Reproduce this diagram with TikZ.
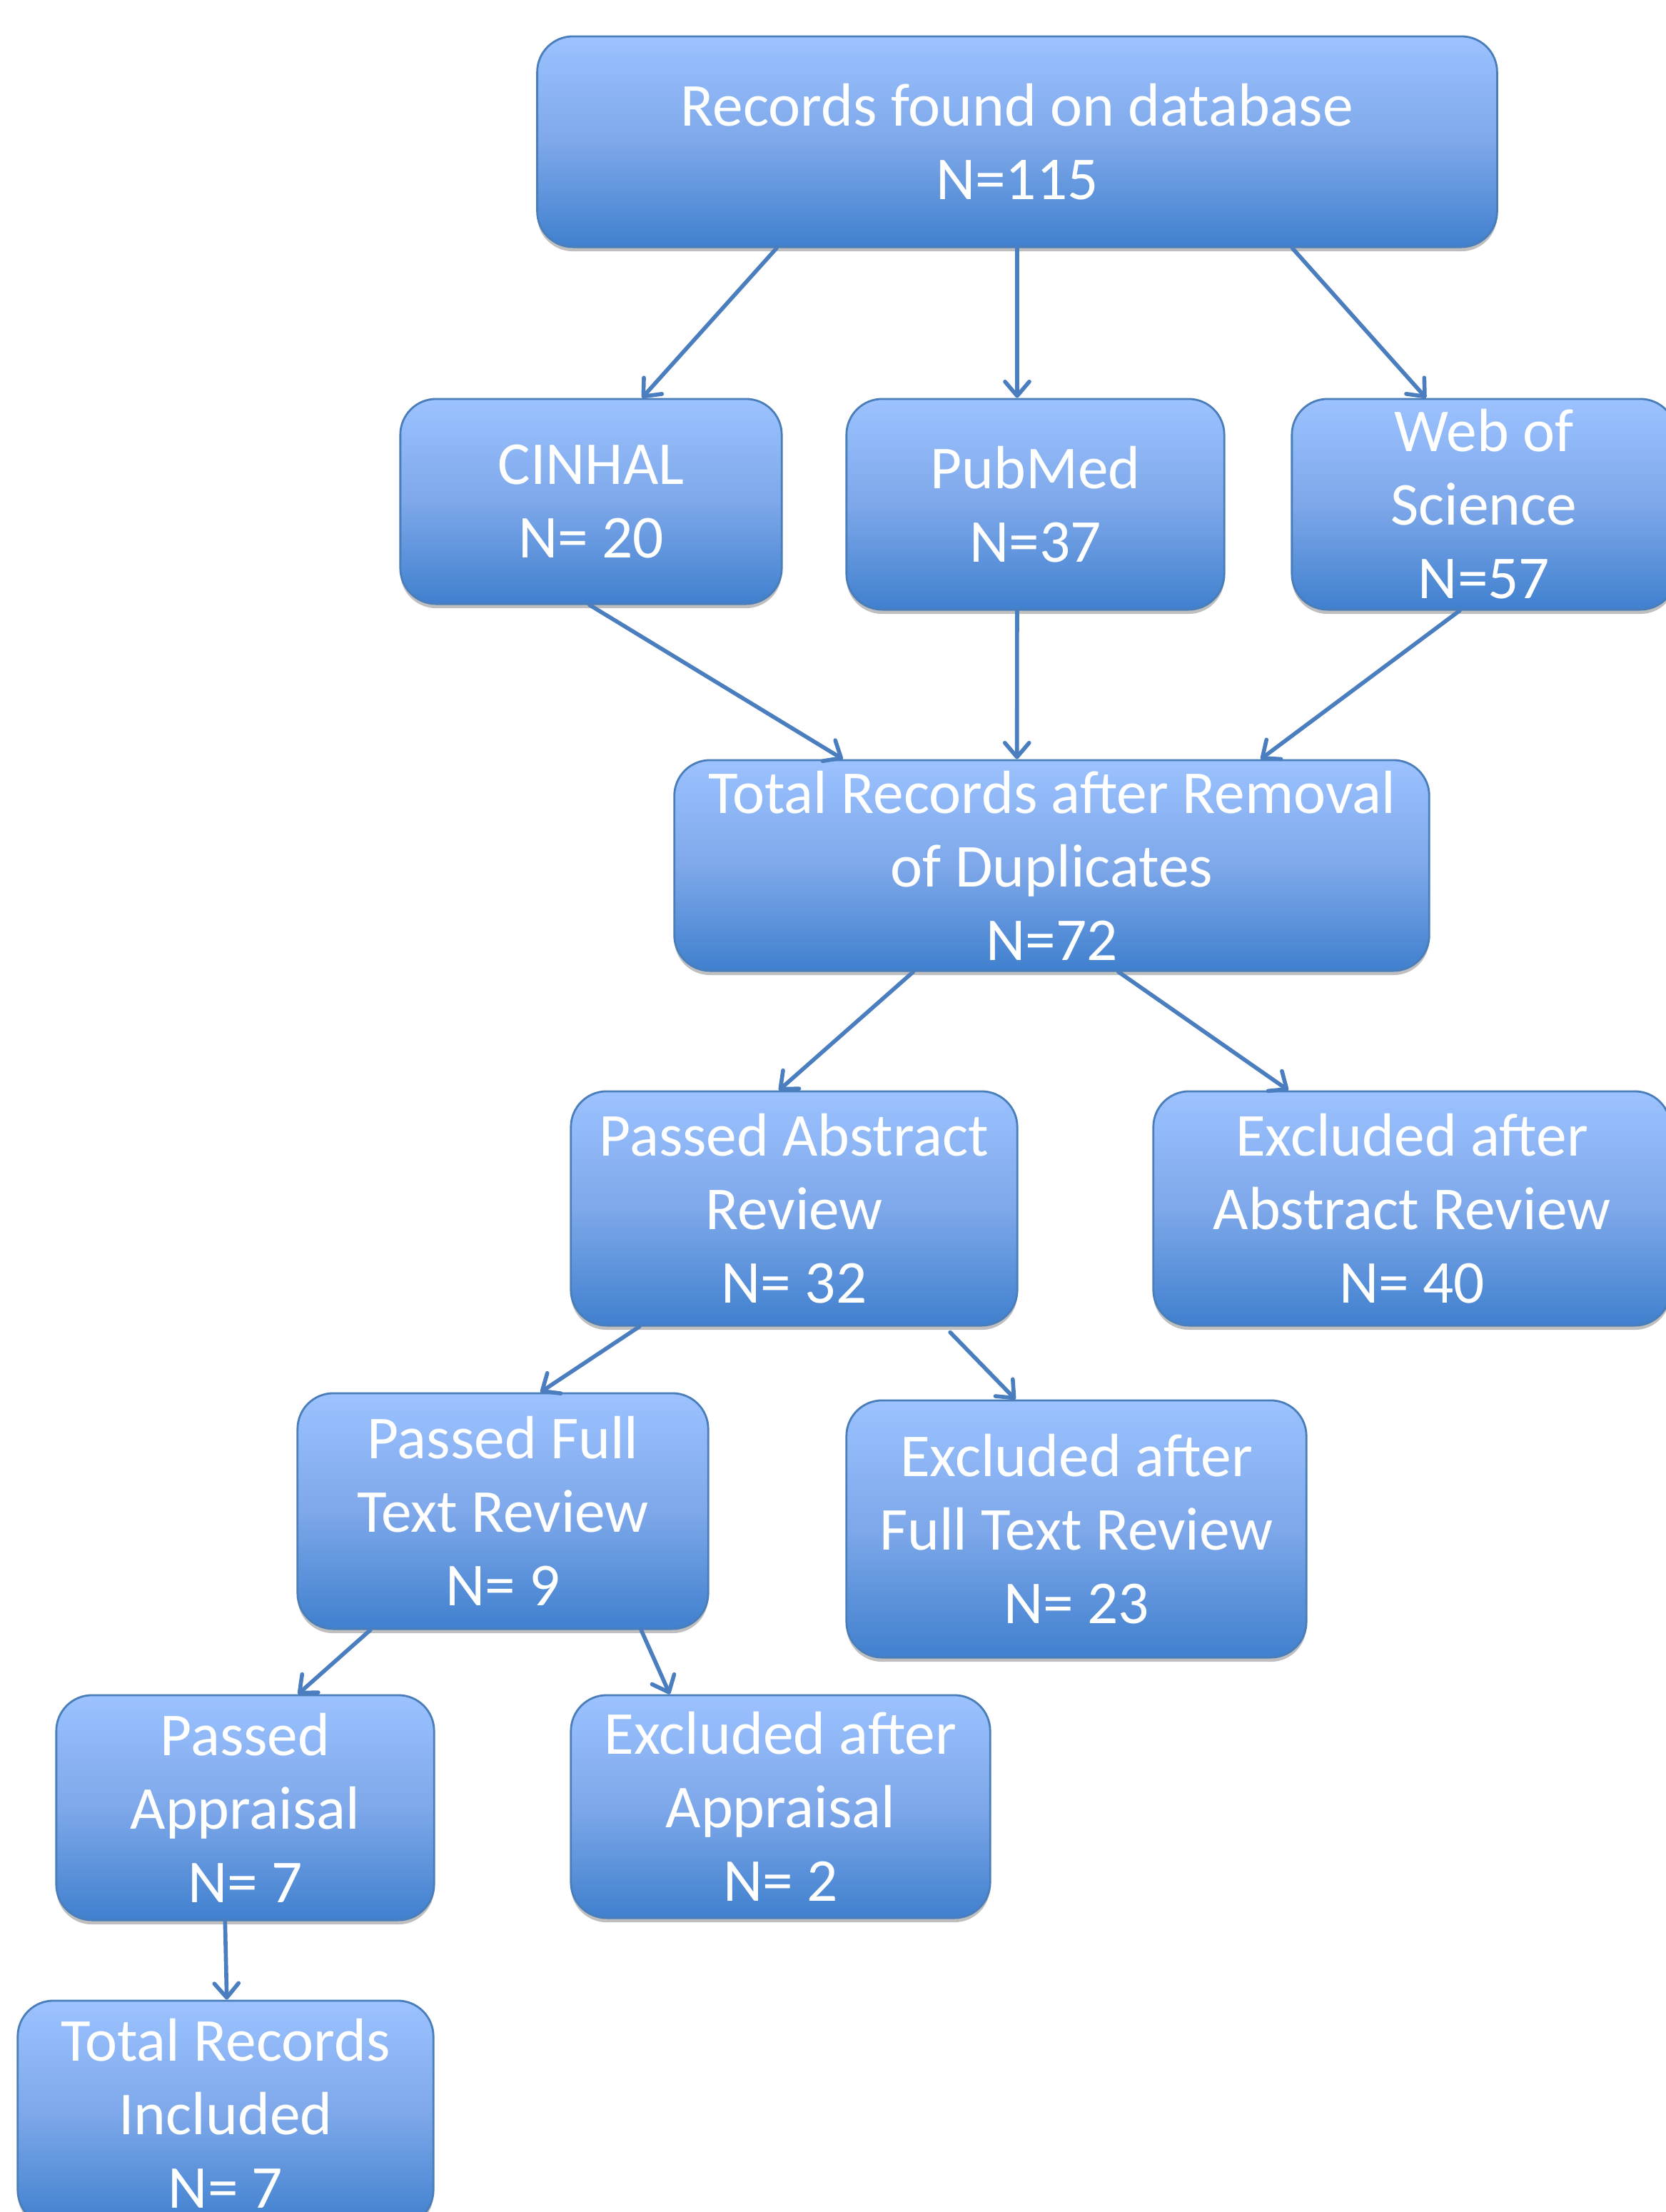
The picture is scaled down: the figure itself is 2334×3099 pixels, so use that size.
\documentclass[tikz,border=0pt]{standalone}
\usepackage{fontspec}
\setmainfont{Carlito}
\usetikzlibrary{arrows.meta,calc,shadows}
\definecolor{boxtop}{HTML}{9CC2FF}
\definecolor{boxmid}{HTML}{7EA8EA}
\definecolor{boxbot}{HTML}{4080CE}
\definecolor{boxline}{HTML}{4A7EBB}
\definecolor{arrowcol}{HTML}{4A7EBF}
\tikzset{
  flowbox/.style={rectangle, rounded corners=0.5cm, draw=boxline, line width=0.8pt,
    top color=boxtop, bottom color=boxbot, middle color=boxmid,
    text=white, align=center, inner sep=0pt,
    font=\fontsize{24.3pt}{29.3pt}\selectfont,
    drop shadow={shadow xshift=0pt, shadow yshift=-0.06cm, opacity=0.25, fill=black}},
  conn/.style={draw=arrowcol, line width=1.6pt, line cap=round,
    -{Straight Barb[round, length=0.2cm, width=0.34cm]}}
}
\begin{document}
\begin{tikzpicture}[x=0.01cm,y=-0.01cm]
\useasboundingbox[fill=white] (0,0) rectangle (2334,3099);

\node[flowbox, minimum width=13.44cm, minimum height=2.95cm] (rec) at (1425,198.5) {Records found on database\\N=115};
\node[flowbox, minimum width=5.34cm, minimum height=2.87cm] (cin) at (828,702.5) {CINHAL\\N= 20};
\node[flowbox, minimum width=5.29cm, minimum height=2.95cm] (pub) at (1450.5,706.5) {PubMed\\N=37};
\node[flowbox, minimum width=5.38cm, minimum height=2.95cm] (wos) at (2079,706.5) {Web of\\Science\\N=57};
\node[flowbox, minimum width=10.57cm, minimum height=2.95cm] (tot) at (1473.5,1212.5) {Total Records after Removal\\of Duplicates\\N=72};
\node[flowbox, minimum width=6.25cm, minimum height=3.28cm] (pab) at (1112.5,1693) {Passed Abstract\\Review\\N= 32};
\node[flowbox, minimum width=7.24cm, minimum height=3.28cm] (eab) at (1978,1693) {Excluded after\\Abstract Review\\N= 40};
\node[flowbox, minimum width=5.75cm, minimum height=3.30cm] (pft) at (704.5,2117) {Passed Full\\Text Review\\N= 9};
\node[flowbox, minimum width=6.44cm, minimum height=3.60cm] (eft) at (1508,2142) {Excluded after\\Full Text Review\\N= 23};
\node[flowbox, minimum width=5.29cm, minimum height=3.15cm] (pap) at (343.5,2532.5) {Passed\\Appraisal\\N= 7};
\node[flowbox, minimum width=5.87cm, minimum height=3.12cm] (eap) at (1093.5,2531) {Excluded after\\Appraisal\\N= 2};
\node[flowbox, minimum width=5.82cm, minimum height=3.15cm] (inc) at (316,2960.5) {Total Records\\Included\\N= 7};

\draw[conn] ($(rec.south west)!0.25!(rec.south east)$) -- ($(cin.north west)!0.633!(cin.north east)$);
\draw[conn] ($(rec.south west)!0.5!(rec.south east)$) -- ($(pub.north west)!0.452!(pub.north east)$);
\draw[conn] ($(rec.south west)!0.786!(rec.south east)$) -- ($(wos.north west)!0.35!(wos.north east)$);

\draw[conn] ($(cin.south west)!0.496!(cin.south east)$) -- ($(tot.north west)!0.224!(tot.north east)$);
\draw[conn] ($(pub.south west)!0.452!(pub.south east)$) -- ($(tot.north west)!0.454!(tot.north east)$);
\draw[conn] ($(wos.south west)!0.437!(wos.south east)$) -- ($(tot.north west)!0.776!(tot.north east)$);

\draw[conn] ($(tot.south west)!0.317!(tot.south east)$) -- ($(pab.north west)!0.466!(pab.north east)$);
\draw[conn] ($(tot.south west)!0.588!(tot.south east)$) -- ($(eab.north west)!0.262!(eab.north east)$);

\draw[conn] ($(pab.south west)!0.155!(pab.south east)$) -- ($(pft.north west)!0.591!(pft.north east)$);
\draw[conn] ($(pab.south west)!0.848!(pab.south east)$) ++(0,8) -- ($(eft.north west)!0.368!(eft.north east)$);

\draw[conn] ($(pft.south west)!0.179!(pft.south east)$) -- ($(pap.north west)!0.639!(pap.north east)$);
\draw[conn] ($(pft.south west)!0.835!(pft.south east)$) -- ($(eap.north west)!0.237!(eap.north east)$);

\draw[conn] ($(pap.south west)!0.447!(pap.south east)$) -- ($(inc.north west)!0.503!(inc.north east)$);
\end{tikzpicture}
\end{document}
